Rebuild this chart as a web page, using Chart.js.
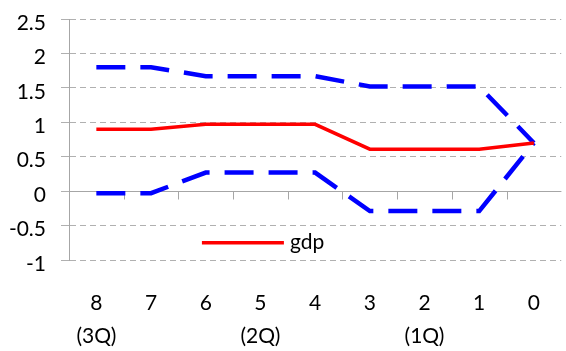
<!DOCTYPE html>
<html>
<head>
<meta charset="utf-8">
<script src="https://cdn.jsdelivr.net/npm/chart.js@4/dist/chart.umd.min.js"></script>
<style>
    body { margin: 0; background: #fff; }
    #wrap { width: 566px; height: 351px; }
</style>
</head>
<body>
<div id="wrap"><canvas id="mycanvas"></canvas></div>
<script>
var periods = ['8', '7', '6', '5', '4', '3', '2', '1', '0'];
var quarters = ['(3Q)', '', '', '(2Q)', '', '', '(1Q)', '', ''];
var gdp = [0.9, 0.9, 0.97, 0.97, 0.97, 0.61, 0.61, 0.61, 0.7];
var upperBand = [1.8, 1.8, 1.67, 1.67, 1.67, 1.52, 1.52, 1.52, 0.7];
var lowerBand = [-0.03, -0.03, 0.27, 0.27, 0.27, -0.29, -0.29, -0.29, 0.7];
var yTicks = [-1, -0.5, 0, 0.5, 1, 1.5, 2, 2.5];

var labels = [];
for (var i = 0; i < periods.length; i++) {
    labels.push([periods[i], quarters[i]]);
}

var fontName = 'Lato, "Open Sans", sans-serif';

// zero line with small ticks between categories
var zeroAxis = {
    id: 'zeroAxis',
    beforeDatasetsDraw: function(chart) {
        var ctx = chart.ctx;
        var x = chart.scales.x;
        var y0 = Math.round(chart.scales.y.getPixelForValue(0)) + 0.5;
        var area = chart.chartArea;
        ctx.save();
        ctx.strokeStyle = '#a6a6a6';
        ctx.lineWidth = 1;
        ctx.beginPath();
        ctx.moveTo(area.left, y0);
        ctx.lineTo(area.right, y0);
        for (var i = 0; i < periods.length - 1; i++) {
            var px = Math.round((x.getPixelForValue(i) + x.getPixelForValue(i + 1)) / 2) + 0.5;
            ctx.moveTo(px, y0);
            ctx.lineTo(px, y0 + 8);
        }
        ctx.stroke();
        ctx.restore();
    }
};

// legend drawn inside the plot, only the gdp series
var innerLegend = {
    id: 'innerLegend',
    afterDraw: function(chart) {
        var ctx = chart.ctx;
        var area = chart.chartArea;
        var ds = chart.data.datasets[0];
        var lx = area.left + (area.right - area.left) * 0.27;
        var ly = area.top + (area.bottom - area.top) * 0.928;
        ctx.save();
        ctx.strokeStyle = ds.borderColor;
        ctx.lineWidth = 3.5;
        ctx.beginPath();
        ctx.moveTo(lx, ly);
        ctx.lineTo(lx + 82, ly);
        ctx.stroke();
        ctx.fillStyle = '#000';
        ctx.font = '21px ' + fontName;
        ctx.textBaseline = 'middle';
        ctx.fillText(ds.label, lx + 88, ly);
        ctx.restore();
    }
};

var ctx = document.getElementById('mycanvas');

var lineChart = new Chart(ctx, {
    type: 'line',
    data: {
        labels: labels,
        datasets: [{
            label: 'gdp',
            data: gdp,
            borderColor: '#ff0000',
            borderWidth: 3.5,
            pointRadius: 0,
            tension: 0,
            fill: false
        }, {
            label: 'upper',
            data: upperBand,
            borderColor: '#0000ff',
            borderWidth: 4.5,
            borderDash: [29, 15],
            pointRadius: 0,
            tension: 0,
            fill: false
        }, {
            label: 'lower',
            data: lowerBand,
            borderColor: '#0000ff',
            borderWidth: 4.5,
            borderDash: [29, 15],
            pointRadius: 0,
            tension: 0,
            fill: false
        }]
    },
    options: {
        responsive: true,
        maintainAspectRatio: false,
        animation: false,
        layout: { padding: { top: 19, right: 0, left: 0, bottom: 0 } },
        plugins: {
            legend: { display: false },
            tooltip: { enabled: false }
        },
        scales: {
            x: {
                offset: true,
                grid: { display: false, drawTicks: false },
                border: { display: false },
                ticks: {
                    color: '#000',
                    padding: 26,
                    maxRotation: 0,
                    autoSkip: false,
                    font: { family: fontName, size: 21, lineHeight: 1.6 }
                },
                afterFit: function(scale) { scale.height = 91; }
            },
            y: {
                min: -1,
                max: 2.5,
                afterBuildTicks: function(scale) {
                    scale.ticks = yTicks.map(function(v) { return { value: v }; });
                },
                grid: { color: '#b0b0b0', lineWidth: 1, tickLength: 8 },
                border: { display: true, color: '#a6a6a6', dash: [6, 4] },
                ticks: {
                    color: '#000',
                    padding: 15,
                    labelOffset: 4,
                    font: { family: fontName, size: 21 },
                    callback: function(v) { return String(v); }
                },
                afterFit: function(scale) {
                    scale.width = 69;
                    scale.paddingTop = 0;
                    scale.paddingBottom = 0;
                }
            }
        }
    },
    plugins: [zeroAxis, innerLegend]
});
</script>
</body>
</html>
